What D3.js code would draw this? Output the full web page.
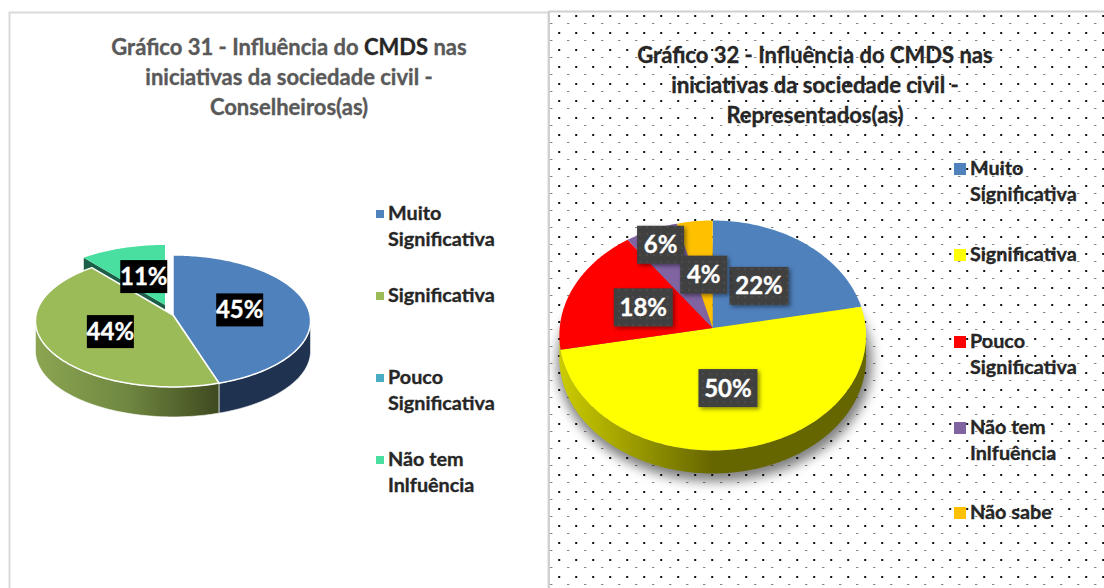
<!DOCTYPE html>
<html>
<head>
<meta charset="utf-8">
<script src="https://cdn.jsdelivr.net/npm/d3@7"></script>
<style>
  html, body { margin: 0; padding: 0; background: #fff; overflow: hidden; }
  svg { display: block; }
  text { font-family: Lato, "Open Sans", sans-serif; font-weight: 700; stroke-width: 0.35px; paint-order: stroke; }
</style>
</head>
<body>
<svg id="chart" width="1104" height="588"></svg>
<script>
// Gráfico 31
const categories31 = ['Muito Significativa', 'Significativa', 'Pouco Significativa', 'Não tem Inlfuência'];
const values31 = [45, 44, 0, 11];
const colors31 = ['#4f81bd', '#9bbb59', '#4bacc6', '#48dfa0'];
const title31 = ['Gráfico 31 - Influência do CMDS nas', 'iniciativas da sociedade civil -', 'Conselheiros(as)'];

// Gráfico 32
const categories32 = ['Muito Significativa', 'Significativa', 'Pouco Significativa', 'Não tem Inlfuência', 'Não sabe'];
const values32 = [22, 50, 18, 6, 4];
const colors32 = ['#4f81bd', '#ffff00', '#ff0000', '#8064a2', '#ffc000'];
const title32 = ['Gráfico 32 - Influência do CMDS nas', 'iniciativas da sociedade civil -', 'Representados(as)'];

const svg = d3.select('#chart');
const defs = svg.append('defs');

// dotted chart area fill
const dots = defs.append('pattern').attr('id', 'dots')
  .attr('patternUnits', 'userSpaceOnUse')
  .attr('x', 550).attr('y', 7).attr('width', 17).attr('height', 17);
dots.append('rect').attr('x', 8.2).attr('y', 8).attr('width', 2).attr('height', 2).attr('fill', '#111');
dots.append('rect').attr('x', 0).attr('y', 16.4).attr('width', 2.4).attr('height', 1.2).attr('fill', '#333');

const dotsDark = defs.append('pattern').attr('id', 'labelDots')
  .attr('patternUnits', 'userSpaceOnUse').attr('width', 7).attr('height', 7);
dotsDark.append('rect').attr('width', 7).attr('height', 7).attr('fill', '#404040');
dotsDark.append('rect').attr('x', 2).attr('y', 2).attr('width', 2).attr('height', 2).attr('fill', '#4c4c4c');

defs.append('filter').attr('id', 'blur').attr('x', '-20%').attr('y', '-20%').attr('width', '140%').attr('height', '140%')
  .append('feGaussianBlur').attr('stdDeviation', 6);

const labelShadow = defs.append('filter').attr('id', 'labelShadow')
  .attr('x', '-20%').attr('y', '-20%').attr('width', '150%').attr('height', '150%');
labelShadow.append('feDropShadow').attr('dx', 2).attr('dy', 2).attr('stdDeviation', 2)
  .attr('flood-color', '#000').attr('flood-opacity', 0.45);

function wallGradient(id, stops) {
  const g = defs.append('linearGradient').attr('id', id);
  stops.forEach(s => g.append('stop').attr('offset', s[0]).attr('stop-color', s[1]));
}
wallGradient('wallGreen', [[0, '#8ba552'], [0.5, '#6f8740'], [1, '#3f4a20']]);
wallGradient('wallYellow', [[0, '#cccc00'], [0.5, '#666600'], [1, '#666600']]);

// panels
svg.append('rect').attr('x', 9.5).attr('y', 12.5).attr('width', 539).attr('height', 590)
  .attr('fill', '#fff').attr('stroke', '#d9d9d9').attr('stroke-width', 2);
svg.append('rect').attr('x', 549).attr('y', 11.5).attr('width', 570).attr('height', 590)
  .attr('fill', '#fff').attr('stroke', '#d0d0d0').attr('stroke-width', 2);
svg.append('rect').attr('x', 550).attr('y', 13).attr('width', 554).attr('height', 575).attr('fill', 'url(#dots)');

// tilted pie: angle + radius fraction -> screen offset, front of the pie a bit larger
function projector(p) {
  return (a, f = 1) => {
    const c = Math.cos(a), s = Math.sin(a), z = 1 - p.k * c;
    return [p.cx + p.rx * f * s * z, p.cy - p.ry * f * c * z];
  };
}

function slicePath(pt, a0, a1) {
  const step = 0.02, line = d3.line();
  const pts = [pt(0, 0)];
  for (let a = a0; a < a1; a += step) pts.push(pt(a));
  pts.push(pt(a1));
  return line(pts) + 'Z';
}

function wallPath(pt, a0, a1, depth) {
  const top = [];
  for (let a = a0; a < a1; a += 0.02) top.push(pt(a));
  top.push(pt(a1));
  const bottom = top.slice().reverse().map(q => [q[0], q[1] + depth]);
  return d3.line()(top.concat(bottom)) + 'Z';
}

function drawTitle(lines, cx, y0, color, strong) {
  const t = svg.append('g');
  lines.forEach((line, i) => {
    const text = t.append('text').attr('x', cx).attr('y', y0 + i * 30)
      .attr('text-anchor', 'middle').attr('font-size', 22).attr('fill', color).attr('stroke', color);
    if (strong && line.includes(strong)) {
      const parts = line.split(strong);
      text.append('tspan').text(parts[0]);
      text.append('tspan').attr('fill', '#262626').attr('stroke', '#262626').text(strong);
      text.append('tspan').text(parts[1]);
    } else {
      text.text(line);
    }
  });
}

// ---- Gráfico 31
drawTitle(title31, 289, 55, '#595959', 'CMDS');

const pie31 = d3.pie().sort(null)(values31);
const p31 = { cx: 173, cy: 315, rx: 137, ry: 66, k: 0.09, depth: 30 };
const pt31 = projector(p31);
const g31 = svg.append('g');
const explodeIdx = 3, explodeX = -8, explodeY = -10;

// exploded slice with its cut wall first, the green slice sits over the wall
const ex = pie31[explodeIdx];
g31.append('path')
  .attr('d', d3.line()([pt31(ex.startAngle), pt31(0, 0), [pt31(0, 0)[0], pt31(0, 0)[1] + p31.depth], [pt31(ex.startAngle)[0], pt31(ex.startAngle)[1] + p31.depth]]))
  .attr('transform', `translate(${explodeX},${explodeY})`)
  .attr('fill', '#1d5e48');
g31.append('path')
  .attr('d', slicePath(pt31, ex.startAngle, ex.endAngle))
  .attr('transform', `translate(${explodeX},${explodeY})`)
  .attr('fill', colors31[explodeIdx]);

// visible side walls
const split31 = pie31[1].startAngle;
g31.append('path').attr('d', wallPath(pt31, Math.PI / 2 + 0.09, split31, p31.depth))
  .attr('fill', '#1f3350').attr('stroke', '#fff').attr('stroke-width', 0.6);
g31.append('path').attr('d', wallPath(pt31, split31, 3 * Math.PI / 2 - 0.09, p31.depth))
  .attr('fill', 'url(#wallGreen)').attr('stroke', '#fff').attr('stroke-width', 0.6);

g31.selectAll('path.top').data(pie31.filter((d, i) => i !== explodeIdx && d.value > 0)).enter()
  .append('path').attr('class', 'top')
  .attr('d', d => slicePath(pt31, d.startAngle, d.endAngle))
  .attr('fill', d => colors31[d.index])
  .attr('stroke', '#fff').attr('stroke-width', 1.5).attr('stroke-linejoin', 'round');

pie31.filter(d => d.value > 0).forEach(d => {
  const q = pt31((d.startAngle + d.endAngle) / 2, 0.5);
  const off = d.index === explodeIdx ? [explodeX, explodeY] : [0, 0];
  const x = q[0] + off[0], y = q[1] + off[1];
  g31.append('rect').attr('x', x - 23.5).attr('y', y - 16.5).attr('width', 47).attr('height', 33).attr('fill', '#000');
  g31.append('text').attr('x', x).attr('y', y + 8.5).attr('text-anchor', 'middle')
    .attr('font-size', 24).attr('fill', '#fff').attr('stroke', '#fff').text(d.value + '%');
});

// ---- Gráfico 32
drawTitle(title32, 815, 63, '#262626');

const pie32 = d3.pie().sort(null)(values32);
const p32 = { cx: 712.7, cy: 328, rx: 153, ry: 115, k: 0.065, depth: 23 };
const pt32 = projector(p32);
const g32 = svg.append('g');

// soft shadow under the pie
g32.append('path').attr('d', slicePath(pt32, 0, 2 * Math.PI))
  .attr('transform', 'translate(2,27)')
  .attr('fill', '#000').attr('stroke', '#000').attr('stroke-width', 8)
  .attr('opacity', 0.5).attr('filter', 'url(#blur)');

g32.append('path').attr('d', wallPath(pt32, Math.PI / 2 + 0.065, 3 * Math.PI / 2 - 0.065, p32.depth))
  .attr('fill', 'url(#wallYellow)');

g32.selectAll('path.top').data(pie32).enter()
  .append('path').attr('class', 'top')
  .attr('d', d => slicePath(pt32, d.startAngle, d.endAngle))
  .attr('fill', d => colors32[d.index]);

pie32.forEach(d => {
  // the 6% label was pulled towards the rim in the original
  const q = pt32((d.startAngle + d.endAngle) / 2, d.value === 6 ? 0.85 : 0.5);
  const w = d.value < 10 ? 47 : 59;
  g32.append('rect').attr('x', q[0] - w / 2).attr('y', q[1] - 19).attr('width', w).attr('height', 38)
    .attr('fill', 'url(#labelDots)').attr('filter', 'url(#labelShadow)');
  g32.append('text').attr('x', q[0]).attr('y', q[1] + 8.5).attr('text-anchor', 'middle')
    .attr('font-size', 24).attr('fill', '#fff').attr('stroke', '#fff').text(d.value + '%');
});

// ---- legends
function drawLegend(names, colors, baselines, x, size, fill) {
  const g = svg.append('g');
  names.forEach((name, i) => {
    const words = name === 'Não sabe' || name === 'Significativa' ? [name]
      : name.startsWith('Não tem') ? ['Não tem', 'Inlfuência']
      : name.split(' ');
    g.append('rect').attr('x', x - size - 4).attr('y', baselines[i] - 6 - size / 2)
      .attr('width', size).attr('height', size).attr('fill', colors[i]);
    words.forEach((w, j) => {
      g.append('text').attr('x', x).attr('y', baselines[i] + j * 26)
        .attr('font-size', 19.8).attr('fill', fill).attr('stroke', fill).text(w);
    });
  });
}
drawLegend(categories31, colors31, [220, 302, 384, 466], 388, 8, '#262626');
drawLegend(categories32, colors32, [175, 261, 348, 434, 519], 970, 12, '#262626');
</script>
</body>
</html>
